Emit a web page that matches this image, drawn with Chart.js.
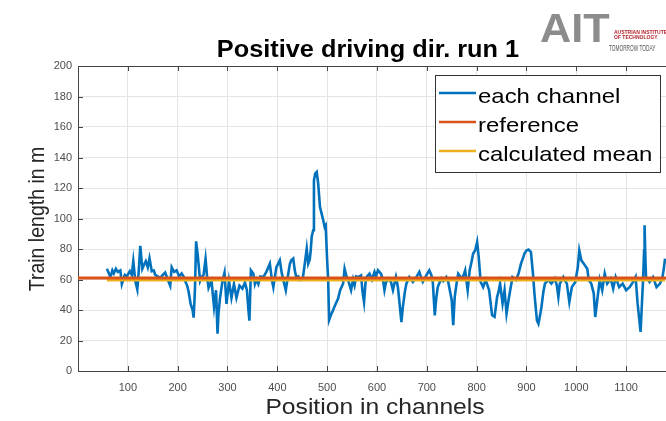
<!DOCTYPE html>
<html>
<head>
<meta charset="utf-8">
<script src="https://cdn.jsdelivr.net/npm/chart.js@4/dist/chart.umd.min.js"></script>
<style>
body { margin: 0; background: #fff; }
canvas { display: block; }
</style>
</head>
<body>
<canvas id="chart" width="666" height="421"></canvas>
<script>
const positions = [
	58, 62, 65, 69, 72, 76, 80, 85, 88, 91, 94, 98, 104, 108, 111, 115, 119, 122, 125, 129,
	133, 136, 140, 143.5, 148, 152, 155, 160, 165, 170, 175, 180, 185, 188, 193, 198, 203, 208, 212, 215,
	219, 222, 226, 230, 232, 234, 235, 237, 240, 242, 245, 249, 252, 256, 259, 262, 265, 268, 273, 277,
	280, 282, 285, 290, 294, 298, 303, 308, 313, 318, 324, 330, 335, 339, 342, 344, 347, 352, 355, 358,
	362, 366, 372, 378, 385, 389, 392, 398, 405, 409, 412, 417, 422, 425, 428, 432, 435, 438, 442, 445,
	451, 455, 459, 462, 465, 467, 469, 472, 473.5, 476, 479, 482, 485.6, 489, 492, 495, 497, 500, 502, 504,
	508, 512, 517, 522, 526, 532, 535, 538, 542, 548, 552, 555, 558, 562, 568, 571, 574, 577, 579, 585,
	590, 595, 598, 602, 608, 612, 615, 618, 622, 628, 632, 638, 642, 646, 649, 652, 656, 659, 665, 672,
	679, 685, 689, 692, 699, 705, 709, 712, 716, 719, 722, 729, 733, 739, 743, 750, 753, 756, 760, 763,
	770, 774, 777, 782, 786, 790, 793, 797, 801, 804, 808, 813, 818, 821, 825, 829, 831, 836, 841, 844,
	847, 852, 856, 860, 865, 869, 872, 879, 884, 889, 893, 896, 900, 904, 909, 913, 916, 919, 921, 924,
	927, 930, 934, 937, 944, 950, 957, 961, 964, 967, 974, 978, 981, 986, 991, 998, 1003, 1006, 1010, 1015,
	1022, 1025, 1030, 1035, 1038, 1042, 1047, 1052, 1057, 1062, 1069, 1074, 1079, 1086, 1093, 1100, 1107, 1114, 1119, 1123,
	1129, 1132, 1134, 1136, 1137, 1139, 1140, 1147, 1154, 1161, 1168, 1173, 1176, 1178
];
const trainLength = [
	67, 64, 61.5, 66, 64, 67, 65, 66, 57, 60, 63, 62, 65.5, 63, 72, 59, 53.5, 66, 82, 67,
	70, 72, 68, 74, 65.5, 66, 63, 62, 61, 63, 64.5, 60, 56, 68, 65, 66, 62, 64, 62, 59,
	56, 52, 44, 40, 35, 48, 57, 85, 77, 70, 59, 62, 63, 73.5, 62, 54.5, 57, 59, 42, 53,
	24.5, 38, 48, 59, 64.5, 44, 59, 48, 57, 48, 56, 54, 58, 53, 40, 33, 66, 63.8, 57, 60,
	57, 62, 61.6, 65, 70.4, 60, 55, 68, 72.6, 64, 59.7, 53, 63.8, 70, 72.6, 73.7, 66, 61.6, 62, 59.7,
	60.6, 70, 80.2, 70.4, 73, 79, 88, 92.3, 125, 129.4, 130.5, 123, 107.5, 103, 99, 94.5, 95.5, 72.6, 60, 33.5,
	37, 40, 44, 47.5, 53, 57.3, 67, 63, 59.7, 53, 60, 56.2, 62, 61.6, 62.7, 52, 45.2, 58, 61.6, 63.8,
	60, 65, 62, 66, 63.8, 60, 53, 58, 60.6, 58.4, 53, 61.6, 55, 42, 32, 42, 52, 57.3, 61.6, 58.4,
	61.6, 65, 61, 58.4, 62.7, 66, 63, 58.4, 36.5, 48, 55, 60.6, 59, 61.6, 58.4, 46.4, 30, 48.5, 58, 63.8,
	60.6, 63, 66, 53, 66, 72, 77, 79, 84.6, 75.4, 58.4, 55, 59.7, 57, 53, 42, 36.5, 35.5, 48.5, 52,
	57.3, 44.3, 53, 37.6, 48.5, 56, 61.6, 59.7, 63.8, 70.4, 74, 77, 79, 79.6, 78, 63.8, 50.8, 40, 33.2, 31,
	36, 41.8, 52, 57.3, 59.7, 57.3, 60.6, 56, 48.5, 57.3, 61.6, 59, 57.3, 45.2, 55, 58.4, 68, 79, 72.6, 70.4,
	67, 59.7, 57.3, 50.8, 35.4, 46.4, 59.7, 53, 63.8, 57.3, 60.6, 54, 61.6, 55, 57.3, 53, 55, 58.4, 61.6, 44.3,
	25.6, 46.4, 60, 79, 95.5, 70, 61.6, 58.4, 61.6, 55, 57.3, 61.6, 68, 73.7
];
const referenceLength = 61;
const meanLength = 59.7;
const xTicks = [100, 200, 300, 400, 500, 600, 700, 800, 900, 1000, 1100];
const yTicks = [0, 20, 40, 60, 80, 100, 120, 140, 160, 180, 200];
const xRange = [0, 1180];
const yRange = [0, 200];
const seriesNames = ["each channel", "reference", "calculated mean"];
const seriesColors = ["#0072BD", "#D95319", "#EDB120"];

const FONT = '"Liberation Sans", Arial, Helvetica, sans-serif';

function stretchText(c, text, x, y, size, weight, color, sx, align) {
	c.save();
	c.font = weight + " " + size + "px " + FONT;
	c.fillStyle = color;
	c.textAlign = align;
	c.textBaseline = "alphabetic";
	c.translate(x, y);
	c.scale(sx, 1);
	c.fillText(text, 0, 0);
	c.restore();
}

// titles, inward ticks, legend box and logo
const decorations = {
	id: "decorations",
	afterDraw(chart) {
		const c = chart.ctx;
		const area = chart.chartArea;
		const xs = chart.scales.x, ys = chart.scales.y;

		// inward tick marks like matlab
		c.save();
		c.strokeStyle = "#444";
		c.lineWidth = 1;
		c.beginPath();
		for (let v of xTicks) {
			let px = Math.round(xs.getPixelForValue(v)) + 0.5;
			c.moveTo(px, area.bottom); c.lineTo(px, area.bottom - 5);
			c.moveTo(px, area.top); c.lineTo(px, area.top + 5);
		}
		for (let v of yTicks) {
			let py = Math.round(ys.getPixelForValue(v)) + 0.5;
			c.moveTo(area.left, py); c.lineTo(area.left + 5, py);
		}
		c.moveTo(area.left, area.top + 0.5); c.lineTo(area.right, area.top + 0.5);
		c.stroke();
		c.restore();

		// title and axis titles
		stretchText(c, "Positive driving dir. run 1", 368, 57, 23, "bold", "#000", 1.1, "center");
		stretchText(c, "Position in channels", 375, 414, 22, "normal", "#262626", 1.12, "center");
		c.save();
		c.translate(44, 219);
		c.rotate(-Math.PI / 2);
		c.scale(1, 1.12);
		c.font = "normal 19.5px " + FONT;
		c.fillStyle = "#262626";
		c.textAlign = "center";
		c.fillText("Train length in m", 0, 0);
		c.restore();

		// legend
		c.save();
		c.fillStyle = "#fff";
		c.fillRect(435, 75, 225, 97);
		c.strokeStyle = "#333";
		c.lineWidth = 1;
		c.strokeRect(435.5, 75.5, 225, 97);
		const baselines = [103, 132, 161];
		for (let i = 0; i < seriesNames.length; i++) {
			c.strokeStyle = seriesColors[i];
			c.lineWidth = 2.5;
			c.beginPath();
			c.moveTo(439, baselines[i] - 10);
			c.lineTo(476, baselines[i] - 10);
			c.stroke();
			stretchText(c, seriesNames[i], 478, baselines[i], 21, "normal", "#000", 1.14, "left");
		}
		c.restore();

		// AIT logo
		stretchText(c, "AIT", 540, 42, 40, "bold", "#8c8c8c", 1.08, "left");
		stretchText(c, "AUSTRIAN INSTITUTE", 614, 34, 5, "bold", "#b5262d", 1, "left");
		stretchText(c, "OF TECHNOLOGY", 614, 39, 5, "bold", "#b5262d", 1, "left");
		stretchText(c, "TOMORROW TODAY", 609, 51, 9.5, "normal", "#555", 0.5, "left");
	}
};

new Chart(document.getElementById("chart"), {
	type: "line",
	data: {
		datasets: [{
			label: seriesNames[0],
			data: positions.map((p, i) => ({ x: p, y: trainLength[i] })),
			borderColor: seriesColors[0],
			borderWidth: 2.6,
			pointRadius: 0,
			tension: 0,
			order: 3
		}, {
			label: seriesNames[1],
			data: [{ x: xRange[0], y: referenceLength }, { x: xRange[1], y: referenceLength }],
			borderColor: seriesColors[1],
			borderWidth: 3,
			pointRadius: 0,
			order: 1
		}, {
			label: seriesNames[2],
			data: [{ x: positions[0], y: meanLength }, { x: positions[positions.length - 1], y: meanLength }],
			borderColor: seriesColors[2],
			borderWidth: 3,
			pointRadius: 0,
			order: 2
		}]
	},
	options: {
		responsive: false,
		animation: false,
		devicePixelRatio: 1,
		layout: { padding: { top: 66, left: 0, right: 0, bottom: 0 } },
		plugins: { legend: { display: false }, title: { display: false }, tooltip: { enabled: false } },
		scales: {
			x: {
				type: "linear",
				min: xRange[0],
				max: xRange[1],
				afterBuildTicks: s => { s.ticks = xTicks.map(v => ({ value: v })); },
				afterFit: s => { s.height = 50; },
				grid: { color: "#e4e4e4", drawTicks: false },
				border: { color: "#444" },
				ticks: { padding: 10, maxRotation: 0, color: "#4d4d4d", font: { family: FONT, size: 11 },
					callback: v => String(v) }
			},
			y: {
				min: yRange[0],
				max: yRange[1],
				afterBuildTicks: s => { s.ticks = yTicks.map(v => ({ value: v })); },
				afterFit: s => { s.width = 78; },
				grid: { color: "#e4e4e4", drawTicks: false },
				border: { color: "#444" },
				ticks: { padding: 6, color: "#4d4d4d", font: { family: FONT, size: 11 },
					callback: v => String(v) }
			}
		}
	},
	plugins: [decorations]
});
</script>
</body>
</html>
